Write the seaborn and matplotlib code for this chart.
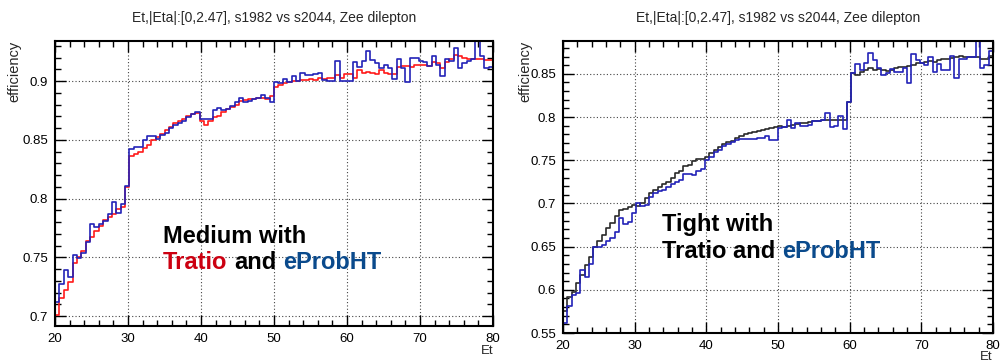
import numpy as np
import pandas as pd
import seaborn as sns
import matplotlib.pyplot as plt
from matplotlib.ticker import MultipleLocator, FuncFormatter

sns.set_theme(style="white")
plt.rcParams['font.family'] = ['Liberation Sans', 'DejaVu Sans']

# Et binning: 100 bins of 0.6 GeV from 20 to 80
n_bins = 100
et_range = (20, 80)
et_edges = np.linspace(et_range[0], et_range[1], n_bins + 1)
et_centers = 0.5 * (et_edges[:-1] + et_edges[1:])

# Medium with Tratio (red) and eProbHT (blue)
medium_tratio = [
    0.701, 0.715, 0.722, 0.729, 0.745, 0.750, 0.755, 0.764, 0.767, 0.772,
    0.777, 0.782, 0.784, 0.787, 0.791, 0.793, 0.810, 0.836, 0.838, 0.840,
    0.843, 0.846, 0.850, 0.852, 0.855, 0.858, 0.861, 0.864, 0.866, 0.868,
    0.870, 0.872, 0.873, 0.866, 0.863, 0.866, 0.869, 0.870, 0.874, 0.876,
    0.878, 0.880, 0.883, 0.884, 0.885, 0.885, 0.886, 0.886, 0.885, 0.887,
    0.895, 0.897, 0.898, 0.899, 0.900, 0.900, 0.901, 0.901, 0.902, 0.901,
    0.903, 0.902, 0.903, 0.903, 0.905, 0.903, 0.906, 0.906, 0.903, 0.909,
    0.907, 0.908, 0.907, 0.906, 0.909, 0.907, 0.906, 0.906, 0.912, 0.913,
    0.913, 0.912, 0.914, 0.914, 0.914, 0.913, 0.916, 0.915, 0.911, 0.916,
    0.919, 0.922, 0.921, 0.920, 0.919, 0.919, 0.919, 0.919, 0.918, 0.918,
]
medium_eprob = [
    0.712, 0.727, 0.739, 0.733, 0.752, 0.749, 0.754, 0.763, 0.778, 0.776,
    0.778, 0.781, 0.787, 0.797, 0.788, 0.795, 0.811, 0.842, 0.844, 0.844,
    0.850, 0.853, 0.853, 0.851, 0.854, 0.856, 0.860, 0.863, 0.864, 0.866,
    0.869, 0.872, 0.874, 0.868, 0.868, 0.868, 0.875, 0.877, 0.875, 0.876,
    0.879, 0.882, 0.886, 0.882, 0.883, 0.885, 0.886, 0.888, 0.886, 0.882,
    0.899, 0.898, 0.902, 0.899, 0.904, 0.900, 0.907, 0.905, 0.905, 0.906,
    0.907, 0.901, 0.900, 0.900, 0.917, 0.900, 0.900, 0.900, 0.916, 0.912,
    0.917, 0.926, 0.918, 0.915, 0.911, 0.914, 0.911, 0.902, 0.919, 0.911,
    0.899, 0.920, 0.920, 0.917, 0.916, 0.913, 0.921, 0.914, 0.904, 0.919,
    0.917, 0.928, 0.911, 0.915, 0.917, 0.919, 0.936, 0.921, 0.911, 0.912,
]

# Tight with Tratio (black) and eProbHT (blue)
tight_tratio = [
    0.576, 0.592, 0.598, 0.608, 0.617, 0.629, 0.638, 0.650, 0.656, 0.663,
    0.671, 0.677, 0.685, 0.692, 0.694, 0.696, 0.698, 0.697, 0.700, 0.706,
    0.712, 0.715, 0.719, 0.722, 0.725, 0.730, 0.735, 0.738, 0.743, 0.745,
    0.749, 0.752, 0.752, 0.754, 0.758, 0.762, 0.765, 0.769, 0.771, 0.772,
    0.776, 0.778, 0.780, 0.782, 0.783, 0.784, 0.785, 0.786, 0.787, 0.789,
    0.790, 0.789, 0.790, 0.791, 0.792, 0.793, 0.793, 0.794, 0.795, 0.795,
    0.796, 0.797, 0.797, 0.796, 0.797, 0.797, 0.817, 0.851, 0.849, 0.852,
    0.855, 0.857, 0.854, 0.856, 0.855, 0.853, 0.855, 0.857, 0.858, 0.858,
    0.859, 0.860, 0.863, 0.862, 0.864, 0.865, 0.864, 0.866, 0.867, 0.867,
    0.868, 0.869, 0.871, 0.870, 0.869, 0.869, 0.869, 0.867, 0.867, 0.871,
]
tight_eprob = [
    0.562, 0.581, 0.594, 0.596, 0.623, 0.615, 0.630, 0.649, 0.650, 0.652,
    0.656, 0.660, 0.667, 0.683, 0.676, 0.678, 0.689, 0.701, 0.697, 0.698,
    0.708, 0.712, 0.714, 0.716, 0.719, 0.722, 0.725, 0.727, 0.734, 0.734,
    0.733, 0.737, 0.740, 0.750, 0.754, 0.759, 0.762, 0.766, 0.769, 0.771,
    0.773, 0.774, 0.774, 0.775, 0.775, 0.776, 0.776, 0.778, 0.773, 0.773,
    0.787, 0.788, 0.796, 0.787, 0.793, 0.790, 0.790, 0.791, 0.795, 0.795,
    0.796, 0.805, 0.789, 0.790, 0.801, 0.786, 0.817, 0.851, 0.861, 0.855,
    0.862, 0.874, 0.866, 0.857, 0.849, 0.851, 0.856, 0.852, 0.852, 0.857,
    0.839, 0.873, 0.866, 0.862, 0.860, 0.869, 0.852, 0.861, 0.854, 0.855,
    0.871, 0.845, 0.867, 0.867, 0.869, 0.869, 0.892, 0.857, 0.860, 0.876,
]

title = "Et,|Eta|:[0,2.47], s1982 vs s2044, Zee dilepton"
RED = '#ff1a1a'
BLUE = '#2323b8'
BLACK = '#2a2a2a'
TXT_RED = '#cc0011'
TXT_BLUE = '#0a4a8c'

fig = plt.figure(figsize=(10, 3.62), dpi=100)
ax1 = fig.add_axes([0.055, 0.0994, 0.438, 0.787])
ax2 = fig.add_axes([0.563, 0.0801, 0.430, 0.8066])


def draw_hist(ax, values, color):
    df = pd.DataFrame({'Et': et_centers, 'eff': values})
    sns.histplot(data=df, x='Et', weights='eff', bins=n_bins, binrange=et_range,
                 element='step', fill=False, color=color, linewidth=1.2, ax=ax)


def style_axes(ax, ylim, ylab_x, et_y):
    ax.set_xlim(20, 80)
    ax.set_ylim(*ylim)
    ax.xaxis.set_major_locator(MultipleLocator(10))
    ax.xaxis.set_minor_locator(MultipleLocator(2))
    ax.yaxis.set_major_locator(MultipleLocator(0.05))
    ax.yaxis.set_minor_locator(MultipleLocator(0.01))
    ax.yaxis.set_major_formatter(FuncFormatter(lambda v, _: f'{v:g}'))
    ax.tick_params(which='both', direction='in', top=True, right=True,
                   bottom=True, left=True, colors='black', labelsize=9.5, width=1)
    ax.tick_params(which='major', length=8, pad=5)
    ax.tick_params(which='minor', length=4)
    ax.grid(True, which='major', linestyle=(0, (1, 2)), color='#444444', linewidth=0.8)
    for s in ax.spines.values():
        s.set_color('black')
        s.set_linewidth(1.5)
    ax.set_xlabel('')
    ax.set_ylabel('')
    ax.set_title(title, fontsize=10, pad=14)
    ax.text(ylab_x, 1.0, 'efficiency', transform=ax.transAxes, rotation=90,
            ha='center', va='top', fontsize=10.5)
    ax.text(1.0, et_y, 'Et', transform=ax.transAxes, ha='right', va='top', fontsize=9.5)


draw_hist(ax1, medium_tratio, RED)
draw_hist(ax1, medium_eprob, BLUE)
style_axes(ax1, (0.6915, 0.934), -0.092, -0.066)

draw_hist(ax2, tight_tratio, BLACK)
draw_hist(ax2, tight_eprob, BLUE)
style_axes(ax2, (0.55, 0.888), -0.088, -0.061)

# Text labels inside the panels
fs = 17
ax1.text(0.247, 0.292, 'Medium with', transform=ax1.transAxes, fontsize=fs,
         fontweight='bold', color='black', va='baseline')
t = ax1.text(0.247, 0.199, 'Tratio', transform=ax1.transAxes, fontsize=fs,
             fontweight='bold', color=TXT_RED, va='baseline')
t = ax1.annotate('and', xy=(1, 0), xycoords=t, xytext=(4.7, 0), textcoords='offset points',
                 fontsize=fs, fontweight='bold', color='black', va='bottom')
ax1.annotate('eProbHT', xy=(1, 0), xycoords=t, xytext=(4.7, 0), textcoords='offset points',
             fontsize=fs, fontweight='bold', color=TXT_BLUE, va='bottom')

ax2.text(0.230, 0.349, 'Tight with', transform=ax2.transAxes, fontsize=fs,
         fontweight='bold', color='black', va='baseline')
t = ax2.text(0.230, 0.258, 'Tratio and', transform=ax2.transAxes, fontsize=fs,
             fontweight='bold', color='black', va='baseline')
ax2.annotate('eProbHT', xy=(1, 0), xycoords=t, xytext=(4.7, 0), textcoords='offset points',
             fontsize=fs, fontweight='bold', color=TXT_BLUE, va='bottom')

fig.savefig('out.png', dpi=100, facecolor='white')
